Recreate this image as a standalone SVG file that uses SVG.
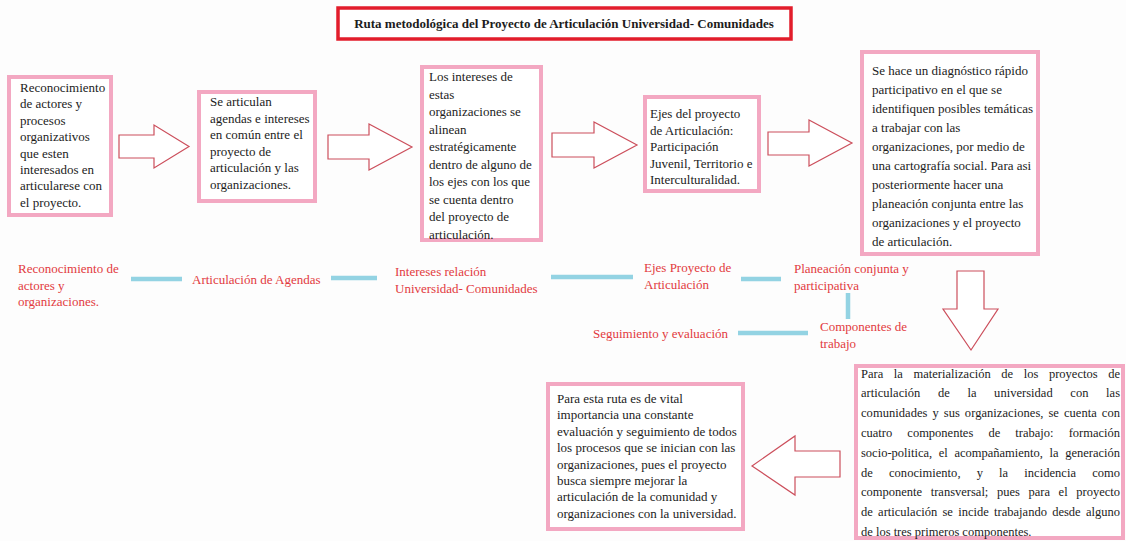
<svg xmlns="http://www.w3.org/2000/svg" width="1126" height="541" viewBox="0 0 1126 541">
<style>
.bg{fill:#fdfdfd}
.box{fill:#ffffff;stroke:#f3a8c2;stroke-width:4}
.title{fill:#ffffff;stroke:#e21d2b;stroke-width:3.5}
.t{font-family:"Liberation Serif","Times New Roman",serif;font-size:13px;fill:#1c1c1c}
.j{font-family:"Liberation Serif","Times New Roman",serif;font-size:12.5px;fill:#1c1c1c}
.tb{font-family:"Liberation Serif","Times New Roman",serif;font-size:13px;font-weight:bold;fill:#1c1c1c}
.r{font-family:"Liberation Serif","Times New Roman",serif;font-size:13px;fill:#e23a40}
.arr{fill:#ffffff;stroke:#cc4f5c;stroke-width:1.2;stroke-linejoin:miter}
.ln{stroke:#93d3e3;stroke-width:4.5;stroke-linecap:butt;fill:none}
</style>
<rect class="bg" x="0" y="0" width="1126" height="541"/>

<g id="title">
<rect class="title" x="338" y="8" width="453" height="31"/>
<text class="tb" x="564" y="28" text-anchor="middle">Ruta metodológica del Proyecto de Articulación Universidad- Comunidades</text>
</g>

<g id="connectors">
<path class="arr" d="M119,135 H154 V125 L189,146.5 L154,168 V158 H119 Z"/>
<path class="arr" d="M328,135 H369 V124 L412,147 L369,170 V159 H328 Z"/>
<path class="arr" d="M552,133 H594 V122 L637,145 L594,168 V157 H552 Z"/>
<path class="arr" d="M768,132 H809 V120 L852,143 L809,166 V155 H768 Z"/>
<path class="arr" d="M957,271 H984 V309 H998 L971,350 L943,309 H957 Z"/>
<path class="arr" d="M840,451 V477 H795 V495 L752,466 L795,436 V451 Z"/>
<line class="ln" x1="131" y1="279" x2="182" y2="279"/>
<line class="ln" x1="331" y1="278" x2="377" y2="278"/>
<line class="ln" x1="551" y1="277" x2="633" y2="277"/>
<line class="ln" x1="741" y1="279" x2="781" y2="279"/>
<line class="ln" x1="848" y1="293" x2="848" y2="319"/>
<line class="ln" x1="738" y1="333" x2="808" y2="333"/>
</g>

<g id="box1">
<rect class="box" x="9" y="77" width="102" height="138"/>
<text class="t"><tspan x="20" y="92">Reconocimiento</tspan><tspan x="20" dy="16.4">de actores y</tspan><tspan x="20" dy="16.4">procesos</tspan><tspan x="20" dy="16.4">organizativos</tspan><tspan x="20" dy="16.4">que esten</tspan><tspan x="20" dy="16.4">interesados en</tspan><tspan x="20" dy="16.4">articularese con</tspan><tspan x="20" dy="16.4">el proyecto.</tspan></text>
</g>

<g id="box2">
<rect class="box" x="199" y="92" width="116" height="109"/>
<text class="t"><tspan x="210" y="106">Se articulan</tspan><tspan x="210" dy="16.6">agendas e intereses</tspan><tspan x="210" dy="16.6">en común entre el</tspan><tspan x="210" dy="16.6">proyecto de</tspan><tspan x="210" dy="16.6">articulación y las</tspan><tspan x="210" dy="16.6">organizaciones.</tspan></text>
</g>

<g id="box3">
<rect class="box" x="422" y="67" width="119" height="173"/>
<text class="t"><tspan x="429" y="81">Los intereses de</tspan><tspan x="429" dy="17.5">estas</tspan><tspan x="429" dy="17.5">organizaciones se</tspan><tspan x="429" dy="17.5">alinean</tspan><tspan x="429" dy="17.5">estratégicamente</tspan><tspan x="429" dy="17.5">dentro de alguno de</tspan><tspan x="429" dy="17.5">los ejes con los que</tspan><tspan x="429" dy="17.5">se cuenta dentro</tspan><tspan x="429" dy="17.5">del proyecto de</tspan><tspan x="429" dy="17.5">articulación.</tspan></text>
</g>

<g id="box4">
<rect class="box" x="645" y="97" width="114" height="94"/>
<text class="t"><tspan x="650" y="118">Ejes del proyecto</tspan><tspan x="650" dy="16.5">de Articulación:</tspan><tspan x="650" dy="16.5">Participación</tspan><tspan x="650" dy="16.5">Juvenil, Territorio e</tspan><tspan x="650" dy="16.5">Interculturalidad.</tspan></text>
</g>

<g id="box5">
<rect class="box" x="862" y="52" width="176" height="202"/>
<text class="t"><tspan x="872" y="74.5">Se hace un diagnóstico rápido</tspan><tspan x="872" dy="19.1">participativo en el que se</tspan><tspan x="872" dy="19.1">identifiquen posibles temáticas</tspan><tspan x="872" dy="19.1">a trabajar con las</tspan><tspan x="872" dy="19.1">organizaciones, por medio de</tspan><tspan x="872" dy="19.1">una cartografía social. Para asi</tspan><tspan x="872" dy="19.1">posteriormente hacer una</tspan><tspan x="872" dy="19.1">planeación conjunta entre las</tspan><tspan x="872" dy="19.1">organizaciones y el proyecto</tspan><tspan x="872" dy="19.1">de articulación.</tspan></text>
</g>

<g id="box6">
<rect class="box" x="856" y="366" width="267" height="172"/>
<text class="j" x="861" y="377.5" word-spacing="7.5" textLength="259" lengthAdjust="spacing">Para la materialización de los proyectos de</text>
<text class="j" x="861" y="397.3" word-spacing="14.5" textLength="259" lengthAdjust="spacing">articulación de la universidad con las</text>
<text class="j" x="861" y="417.1" word-spacing="1.8" textLength="259" lengthAdjust="spacing">comunidades y sus organizaciones, se cuenta con</text>
<text class="j" x="861" y="436.9" word-spacing="12" textLength="259" lengthAdjust="spacing">cuatro componentes de trabajo: formación</text>
<text class="j" x="861" y="456.7" word-spacing="3.5" textLength="259" lengthAdjust="spacing">socio-politica, el acompañamiento, la generación</text>
<text class="j" x="861" y="476.5" word-spacing="13" textLength="259" lengthAdjust="spacing">de conocimiento, y la incidencia como</text>
<text class="j" x="861" y="496.3" word-spacing="5.5" textLength="259" lengthAdjust="spacing">componente transversal; pues para el proyecto</text>
<text class="j" x="861" y="516.1" word-spacing="2.2" textLength="259" lengthAdjust="spacing">de articulación se incide trabajando desde alguno</text>
<text class="j" x="861" y="535.9">de los tres primeros componentes.</text>
</g>

<g id="box7">
<rect class="box" x="548" y="384" width="195" height="145"/>
<text class="t"><tspan x="557" y="403">Para esta ruta es de vital</tspan><tspan x="557" dy="16.4">importancia una constante</tspan><tspan x="557" dy="16.4">evaluación y seguimiento de todos</tspan><tspan x="557" dy="16.4">los procesos que se inician con las</tspan><tspan x="557" dy="16.4">organizaciones, pues el proyecto</tspan><tspan x="557" dy="16.4">busca siempre mejorar la</tspan><tspan x="557" dy="16.4">articulación de la comunidad y</tspan><tspan x="557" dy="16.4">organizaciones con la universidad.</tspan></text>
</g>

<g id="label1"><text class="r"><tspan x="18" y="273">Reconocimiento de</tspan><tspan x="18" dy="16.5">actores y</tspan><tspan x="18" dy="16.5">organizaciones.</tspan></text></g>
<g id="label2"><text class="r" x="192" y="284">Articulación de Agendas</text></g>
<g id="label3"><text class="r"><tspan x="395" y="276">Intereses relación</tspan><tspan x="395" dy="16.5">Universidad- Comunidades</tspan></text></g>
<g id="label4"><text class="r"><tspan x="644" y="272">Ejes Proyecto de</tspan><tspan x="644" dy="16.5">Articulación</tspan></text></g>
<g id="label5"><text class="r"><tspan x="794" y="273">Planeación conjunta y</tspan><tspan x="794" dy="16.5">participativa</tspan></text></g>
<g id="label6"><text class="r"><tspan x="820" y="331">Componentes de</tspan><tspan x="820" dy="16.5">trabajo</tspan></text></g>
<g id="label7"><text class="r" x="593" y="338">Seguimiento y evaluación</text></g>
</svg>
